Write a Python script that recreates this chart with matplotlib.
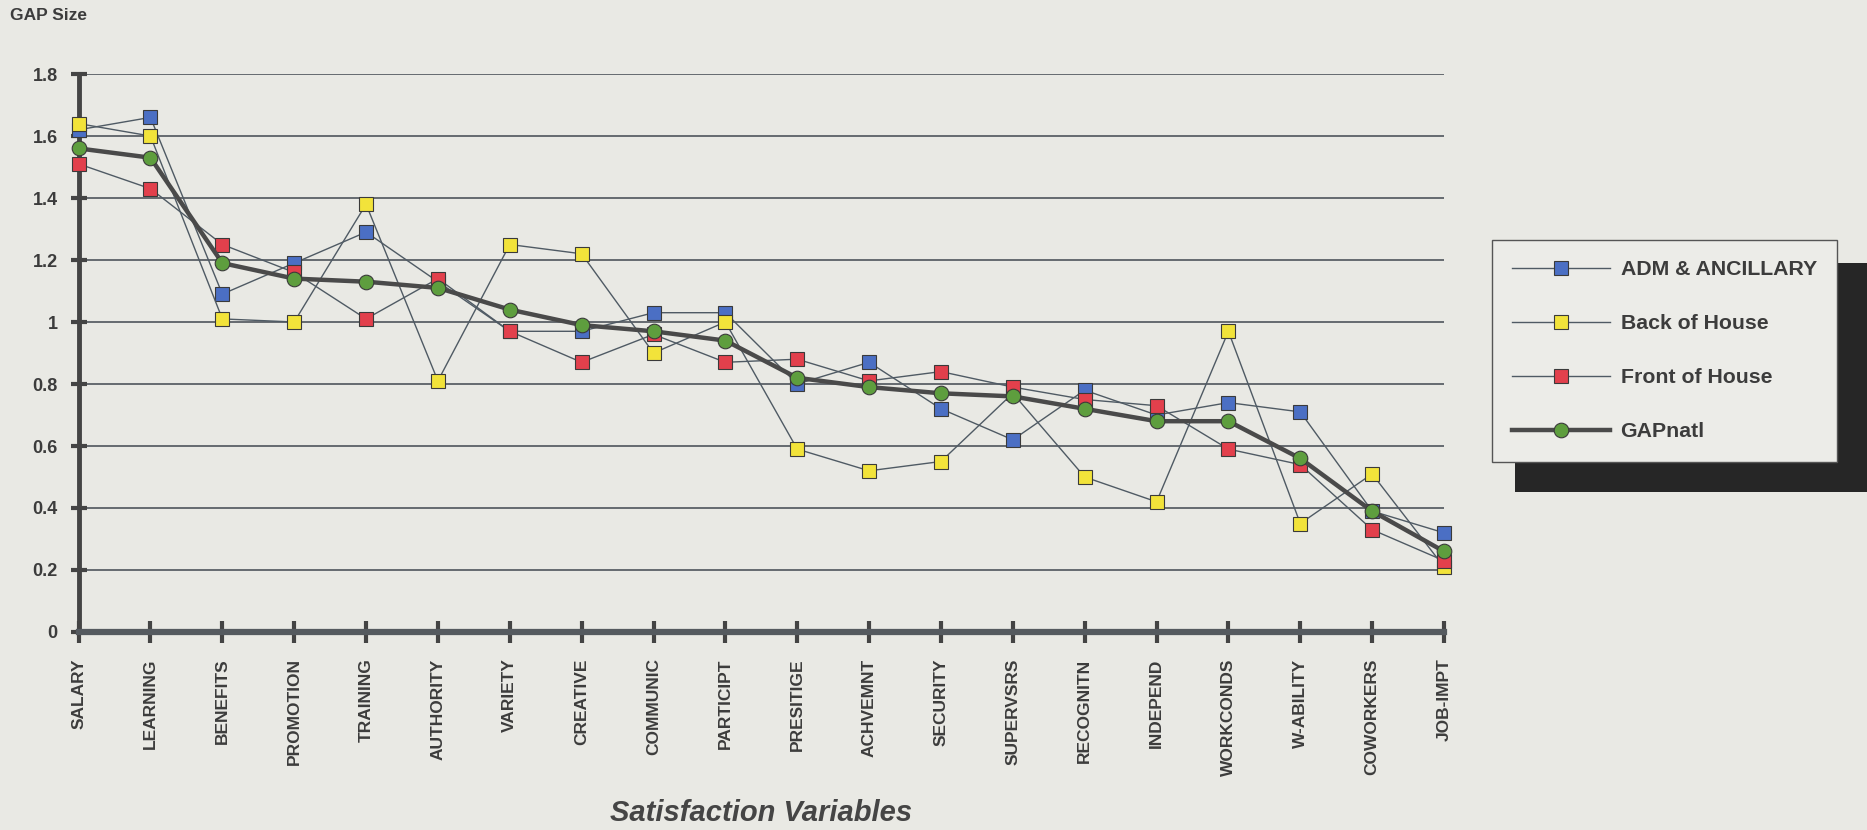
import matplotlib
matplotlib.use("Agg")
import matplotlib.pyplot as plt
from matplotlib.patches import Rectangle

plt.rcParams['font.family'] = ['Liberation Sans', 'DejaVu Sans']
plt.rcParams['font.weight'] = 'bold'

# satisfaction variables, ordered by national gap size
variables = ["SALARY", "LEARNING", "BENEFITS", "PROMOTION", "TRAINING", "AUTHORITY",
             "VARIETY", "CREATIVE", "COMMUNIC", "PARTICIPT", "PRESITIGE", "ACHVEMNT",
             "SECURITY", "SUPERVSRS", "RECOGNITN", "INDEPEND", "WORKCONDS", "W-ABILITY",
             "COWORKERS", "JOB-IMPT"]

adm = [1.62, 1.66, 1.09, 1.19, 1.29, 1.13, 0.97, 0.97, 1.03, 1.03,
       0.80, 0.87, 0.72, 0.62, 0.78, 0.70, 0.74, 0.71, 0.39, 0.32]
back = [1.64, 1.60, 1.01, 1.00, 1.38, 0.81, 1.25, 1.22, 0.90, 1.00,
        0.59, 0.52, 0.55, 0.77, 0.50, 0.42, 0.97, 0.35, 0.51, 0.21]
front = [1.51, 1.43, 1.25, 1.16, 1.01, 1.14, 0.97, 0.87, 0.96, 0.87,
         0.88, 0.81, 0.84, 0.79, 0.75, 0.73, 0.59, 0.54, 0.33, 0.23]
natl = [1.56, 1.53, 1.19, 1.14, 1.13, 1.11, 1.04, 0.99, 0.97, 0.94,
        0.82, 0.79, 0.77, 0.76, 0.72, 0.68, 0.68, 0.56, 0.39, 0.26]

series_names = ["ADM & ANCILLARY", "Back of House", "Front of House", "GAPnatl"]
yticks = [0, 0.2, 0.4, 0.6, 0.8, 1, 1.2, 1.4, 1.6, 1.8]

paper = '#e9e9e4'
ink = '#3c3c3c'
line_col = '#4f5a64'

W, H = 1867, 830
fig = plt.figure(figsize=(W / 100, H / 100), dpi=100, facecolor=paper)
ax = fig.add_axes([78.6 / W, 1 - 632 / H, (1444 - 78.6) / W, (632 - 74) / H])
ax.set_facecolor(paper)

x = list(range(len(variables)))

# grid lines
for v in yticks[1:]:
    ax.axhline(v, color='#5b6066', lw=1.3, zorder=1)

ax.plot(x, adm, color=line_col, lw=1.0, marker='s', ms=10.5, mfc='#4b6fc4',
        mec='#3a3a3a', mew=0.8, label=series_names[0], clip_on=False, zorder=3)
ax.plot(x, back, color=line_col, lw=1.0, marker='s', ms=10.5, mfc='#f2e33a',
        mec='#3a3a3a', mew=0.8, label=series_names[1], clip_on=False, zorder=3)
ax.plot(x, front, color=line_col, lw=1.0, marker='s', ms=10.5, mfc='#e2404c',
        mec='#3a3a3a', mew=0.8, label=series_names[2], clip_on=False, zorder=3)
ax.plot(x, natl, color='#4a4a4a', lw=3.2, marker='o', ms=10.5, mfc='#5e9e3e',
        mec='#3a3a3a', mew=0.8, label=series_names[3], clip_on=False, zorder=4)

ax.set_xlim(0, len(variables) - 1)
ax.set_ylim(0, 1.8)
ax.set_xticks(x)
ax.set_xticklabels(variables, rotation=90, fontsize=12.5, color=ink)
ax.set_yticks(yticks)
ax.set_yticklabels([f"{v:g}" for v in yticks], fontsize=13, color=ink)

for s in ['top', 'right']:
    ax.spines[s].set_visible(False)
ax.spines['left'].set_color('#444444')
ax.spines['left'].set_linewidth(3.5)
ax.spines['bottom'].set_color('#555a5f')
ax.spines['bottom'].set_linewidth(4.5)
ax.tick_params(axis='x', direction='inout', length=16, width=3, color='#444444', pad=11)
ax.tick_params(axis='y', direction='inout', length=12, width=3, color='#444444', pad=9)

ax.set_xlabel("Satisfaction Variables", fontsize=21, style='italic', weight='bold',
              family=['Liberation Sans Narrow', 'Liberation Sans', 'DejaVu Sans'],
              color='#454545', labelpad=17)

fig.text(10 / W, 1 - 15 / H, "GAP Size", fontsize=12.5, color=ink, va='center', ha='left')

# legend with drop shadow
fig.add_artist(Rectangle((1515 / W, 1 - 492 / H), (W - 1515) / W, (492 - 263) / H,
                         transform=fig.transFigure, facecolor='#262626',
                         edgecolor='none', zorder=4))
leg = fig.legend(loc='upper left', bbox_to_anchor=(1492 / W, 1 - 240 / H),
                 borderaxespad=0, fontsize=15.3, handlelength=4.6, handletextpad=0.5,
                 labelspacing=1.65, borderpad=0.95, fancybox=False, framealpha=1,
                 facecolor='#ececE8', edgecolor='#555555', labelcolor=ink)
leg.set_zorder(5)
leg.get_frame().set_linewidth(1.0)

fig.savefig("out.png", dpi=100, facecolor=paper)
